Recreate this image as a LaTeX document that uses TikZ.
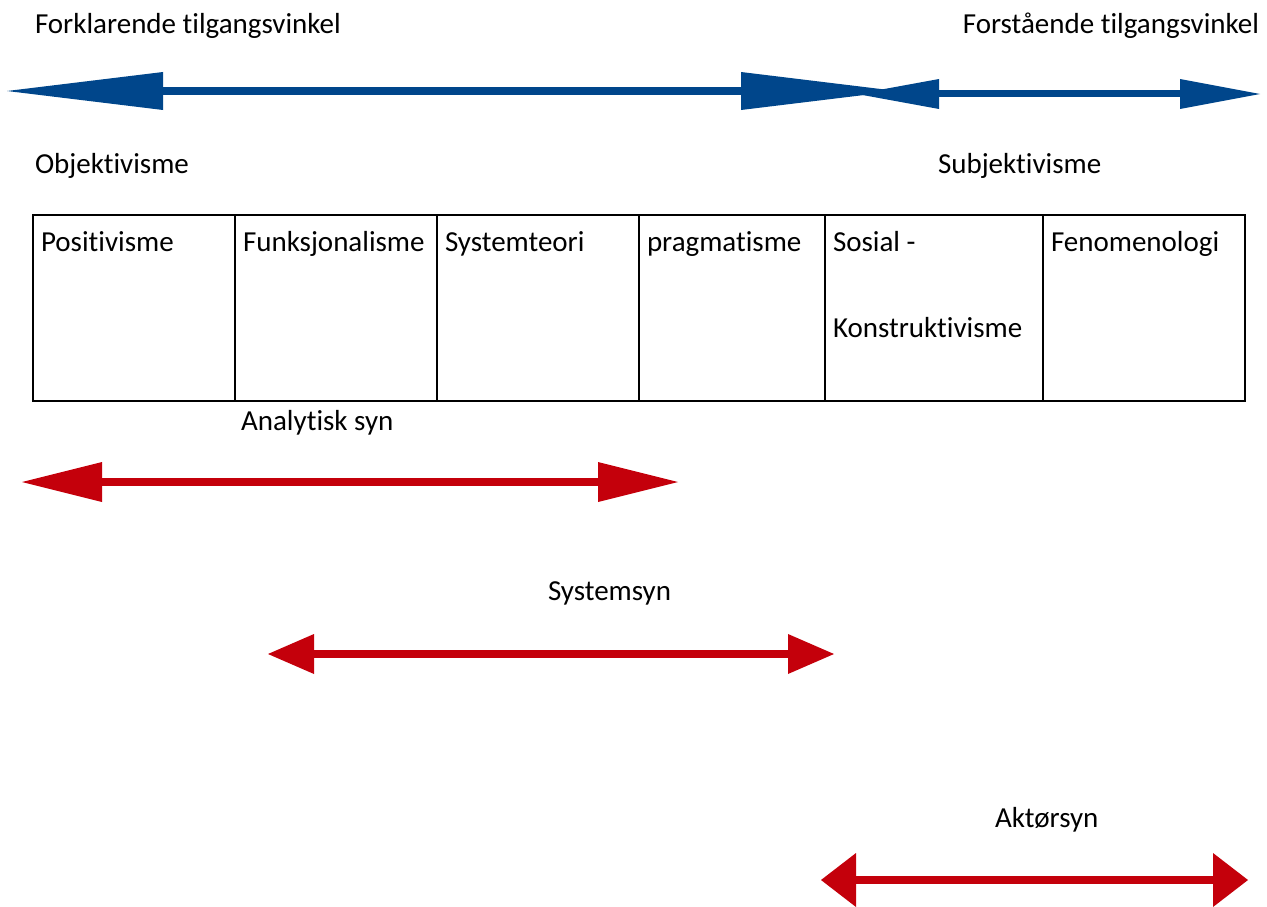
\documentclass[tikz,border=0pt]{standalone}
\usepackage{fontspec}
\setmainfont[Ligatures=NoCommon]{Carlito}
\usetikzlibrary{arrows.meta}
\definecolor{axisblue}{RGB}{0,70,139}
\definecolor{viewred}{RGB}{196,0,11}
\begin{document}
\begin{tikzpicture}[x=1pt,y=-1pt,
  every node/.style={inner sep=0pt, outer sep=0pt, font=\fontsize{29pt}{35pt}\selectfont},
  lbl/.style={anchor=base west},
  cell/.style={draw=black, line width=1.2pt, anchor=north west, minimum height=186pt},
  bigblue/.style={draw=axisblue, line width=8pt,
    arrows={Triangle[length=156pt,width=38pt,line width=0pt]-Triangle[length=156pt,width=38pt,line width=0pt]}},
  smallblue/.style={draw=axisblue, line width=7pt,
    arrows={Triangle[length=82pt,width=30pt,line width=0pt]-Triangle[length=80pt,width=30pt,line width=0pt]}},
  redlong/.style={draw=viewred, line width=8pt,
    arrows={Triangle[length=80pt,width=40pt,line width=0pt]-Triangle[length=80pt,width=40pt,line width=0pt]}},
  redmid/.style={draw=viewred, line width=8pt,
    arrows={Triangle[length=46pt,width=40pt,line width=0pt]-Triangle[length=46pt,width=40pt,line width=0pt]}},
  redshort/.style={draw=viewred, line width=8pt,
    arrows={Triangle[length=35pt,width=54pt,line width=0pt]-Triangle[length=35pt,width=54pt,line width=0pt]}}
]
\useasboundingbox (0,0) rectangle (1267,907);

% headings
\node[lbl] (forkl) at (35,34) {Forklarende tilgangsvinkel};
\node[anchor=base east] (forst) at (1259,34) {Forstående tilgangsvinkel};

% upper axis: explanatory vs. understanding
\coordinate (b1l) at (7,91);
\coordinate (b1r) at (897,91);
\coordinate (b2l) at (857,94);
\coordinate (b2r) at (1260,94);
\draw[bigblue] (b1l) -- (b1r);
\draw[smallblue] (b2l) -- (b2r);

\node[lbl] (obj) at (35,173) {Objektivisme};
\node[lbl] (subj) at (938,173) {Subjektivisme};

% table of positions
\node[cell, minimum width=202pt] (c1) at (33,215) {};
\node[cell, minimum width=202pt] (c2) at (235,215) {};
\node[cell, minimum width=202pt] (c3) at (437,215) {};
\node[cell, minimum width=186pt] (c4) at (639,215) {};
\node[cell, minimum width=218pt] (c5) at (825,215) {};
\node[cell, minimum width=202pt] (c6) at (1043,215) {};

\node[lbl] (t1) at (41,251) {Positivisme};
\node[lbl] (t2) at (243,251) {Funksjonalisme};
\node[lbl] (t3) at (445,251) {Systemteori};
\node[lbl] (t4) at (647,251) {pragmatisme};
\node[lbl] (t5) at (833,251) {Sosial -};
\node[lbl] (t5b) at (833,337) {Konstruktivisme};
\node[lbl] (t6) at (1051,251) {Fenomenologi};

% views
\node[lbl] (ana) at (241,430) {Analytisk syn};
\coordinate (r1l) at (22,482);
\coordinate (r1r) at (678,482);
\draw[redlong] (r1l) -- (r1r);

\node[lbl] (sys) at (548,600) {Systemsyn};
\coordinate (r2l) at (268,654);
\coordinate (r2r) at (834,654);
\draw[redmid] (r2l) -- (r2r);

\node[lbl] (akt) at (995,827) {Aktørsyn};
\coordinate (r3l) at (821,880);
\coordinate (r3r) at (1248,880);
\draw[redshort] (r3l) -- (r3r);
\end{tikzpicture}
\end{document}
